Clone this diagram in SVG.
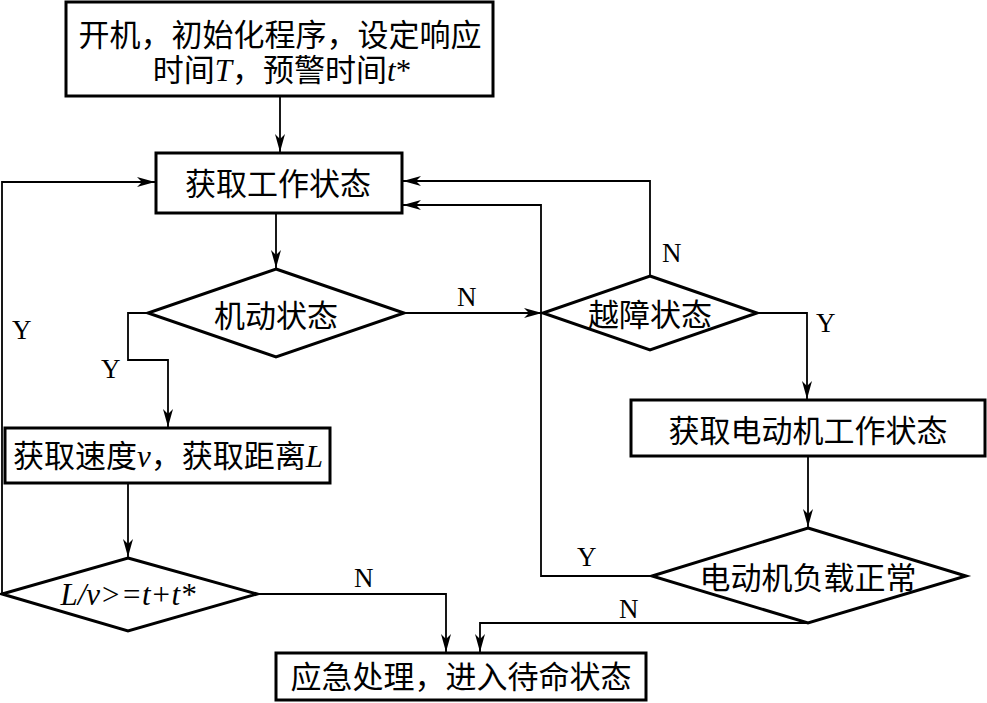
<svg xmlns="http://www.w3.org/2000/svg" width="987" height="703" viewBox="0 0 987 703">
<style>
.box{fill:#fff;stroke:#000;stroke-width:3}
.ln{fill:none;stroke:#000;stroke-width:1.8}
.t{font-family:"Liberation Serif","Noto Sans CJK SC",serif;font-size:31px;fill:#000;text-anchor:middle}
.i{font-style:italic}
.lb{font-family:"Liberation Serif",serif;font-size:27px;fill:#000}
</style>
<defs>
<marker id="ar" viewBox="0 0 18 10" refX="18" refY="5" markerWidth="18" markerHeight="10" markerUnits="userSpaceOnUse" orient="auto">
<path d="M18,5 L0,0 L5,5 L0,10 Z" fill="#000"/>
</marker>
</defs>
<rect width="987" height="703" fill="#fff"/>
<g id="connectors">
<path class="ln" d="M280,96 V152" marker-end="url(#ar)"/>
<path class="ln" d="M276,213 V268" marker-end="url(#ar)"/>
<path class="ln" d="M148,313 H128 V360 H168 V427" marker-end="url(#ar)"/>
<path class="ln" d="M128,483 V557" marker-end="url(#ar)"/>
<path class="ln" d="M2,594 V182 H155" marker-end="url(#ar)"/>
<path class="ln" d="M257,594 H446 V652" marker-end="url(#ar)"/>
<path class="ln" d="M404,313 H542" marker-end="url(#ar)"/>
<path class="ln" d="M650,276 V181 H403" marker-end="url(#ar)"/>
<path class="ln" d="M757,313 H807 V399" marker-end="url(#ar)"/>
<path class="ln" d="M808,456 V527" marker-end="url(#ar)"/>
<path class="ln" d="M652,576 H541 V205 H403" marker-end="url(#ar)"/>
<path class="ln" d="M808,623 H480 V652" marker-end="url(#ar)"/>
</g>
<g id="labels">
<text class="lb" x="12" y="339">Y</text>
<text class="lb" x="101" y="378">Y</text>
<text class="lb" x="457" y="306">N</text>
<text class="lb" x="662" y="262">N</text>
<text class="lb" x="816" y="332">Y</text>
<text class="lb" x="577" y="566">Y</text>
<text class="lb" x="354" y="587">N</text>
<text class="lb" x="619" y="618">N</text>
</g>
<g id="start">
<rect class="box" x="66" y="2" width="427" height="94"/>
<text class="t" x="280" y="46">开机，初始化程序，设定响应</text>
<text class="t" x="282" y="81">时间<tspan class="i">T</tspan>，预警时间<tspan class="i">t</tspan>*</text>
</g>
<g id="getstate">
<rect class="box" x="156" y="153" width="246" height="60"/>
<text class="t" x="278" y="195">获取工作状态</text>
</g>
<g id="motor">
<polygon class="box" points="276,269 404,313 276,357 148,313"/>
<text class="t" x="276" y="327">机动状态</text>
</g>
<g id="speed">
<rect class="box" x="5" y="428" width="325" height="55"/>
<text class="t" x="168" y="467">获取速度<tspan class="i">v</tspan>，获取距离<tspan class="i">L</tspan></text>
</g>
<g id="compare">
<polygon class="box" points="128,558 257,594 128,631 2,594"/>
<text class="t i" x="128" y="605">L/v&gt;=t+t*</text>
</g>
<g id="obstacle">
<polygon class="box" points="650,276 757,313 650,350 543,313"/>
<text class="t" x="650" y="326">越障状态</text>
</g>
<g id="motorstate">
<rect class="box" x="631" y="400" width="354" height="56"/>
<text class="t" x="808" y="442">获取电动机工作状态</text>
</g>
<g id="load">
<polygon class="box" points="808,528 966,576 808,623 652,576"/>
<text class="t" x="808" y="589">电动机负载正常</text>
</g>
<g id="emergency">
<rect class="box" x="276" y="653" width="370" height="47"/>
<text class="t" x="461" y="688">应急处理，进入待命状态</text>
</g>
</svg>
